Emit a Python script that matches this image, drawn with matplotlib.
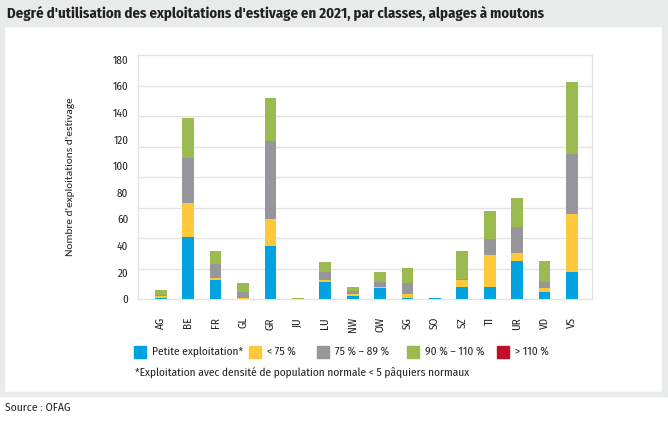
import numpy as np
import matplotlib.pyplot as plt
from matplotlib.patches import Rectangle

cantons = ['AG', 'BE', 'FR', 'GL', 'GR', 'JU', 'LU', 'NW', 'OW', 'SG', 'SO', 'SZ', 'TI', 'UR', 'VD', 'VS']
petite = [1, 47, 14.5, 0, 40, 0, 12.5, 2, 8, 1, 1, 9, 9, 28.5, 5, 20]
moins75 = [1, 25, 1.5, 1, 20, 0, 2, 2, 1, 3, 0, 5, 24, 6, 3, 44]
c75_89 = [1, 34, 10, 4, 59, 0, 6, 2, 4, 8, 0, 1, 12, 20, 5, 45]
c90_110 = [4, 30, 10, 7, 32, 1, 7, 3, 7, 11, 0, 21, 21, 21.5, 15.5, 54]
plus110 = [0] * 16

series = [petite, moins75, c75_89, c90_110, plus110]
labels = ['Petite exploitation*', '< 75 %', '75 % – 89 %', '90 % – 110 %', '> 110 %']
colors = ['#00a3e0', '#ffc83a', '#97979b', '#9bbb50', '#c0102a']

cond = ['Fira Sans Condensed', 'DejaVu Sans']
txtcol = '#222222'

W, H = 668, 421
fig = plt.figure(figsize=(W / 100, H / 100), dpi=100)
fig.patch.set_facecolor('white')

# gray frame + title band
band = '#e9eaea'
fig.patches.append(Rectangle((0, 1 - 26 / H), 1, 26 / H, transform=fig.transFigure, color=band, zorder=0))
fig.patches.append(Rectangle((0, 1 - 396 / H), 4 / W, 370 / H, transform=fig.transFigure, color=band, zorder=0))
fig.patches.append(Rectangle((662 / W, 1 - 396 / H), 6 / W, 370 / H, transform=fig.transFigure, color=band, zorder=0))
fig.patches.append(Rectangle((0, 1 - 396 / H), 1, 4.5 / H, transform=fig.transFigure, color=band, zorder=0))

fig.text(7 / W, 1 - 13.5 / H, "Degré d'utilisation des exploitations d'estivage en 2021, par classes, alpages à moutons",
         fontsize=10.6, fontweight='bold', family=cond, va='center', ha='left', color=txtcol)
fig.text(5 / W, 1 - 408 / H, 'Source : OFAG', fontsize=8.3, family=cond, va='center', ha='left', color=txtcol)

ax = fig.add_axes([138 / W, (H - 299) / H, (592 - 138) / W, (299 - 55) / H])
x = np.arange(len(cantons))
bottom = np.zeros(len(cantons))
for vals, c in zip(series, colors):
    vals = np.array(vals, dtype=float)
    ax.bar(x, vals, bottom=bottom, width=0.43, color=c, zorder=3)
    bottom += vals

ymax = 183.5
ax.set_ylim(0, ymax)
ax.set_xlim(-0.83, 15.73)
for i in range(1, 8):
    ax.axhline(i * ymax / 8, color='#e3e3e3', lw=1, zorder=1)
for s in ax.spines.values():
    s.set_color('#e3e3e3')
    s.set_linewidth(1)

ax.set_yticks(np.arange(0, 181, 20))
ax.tick_params(axis='y', length=0, pad=7, labelsize=8, labelcolor=txtcol)
ax.tick_params(axis='x', length=0, pad=13, labelsize=8, labelcolor=txtcol)
ax.set_xticks(x)
ax.set_xticklabels(cantons, rotation=90, family=cond)
for t in ax.get_yticklabels():
    t.set_family(cond)
ax.set_ylabel("Nombre d'exploitations d'estivage", fontsize=8.2, family=['Carlito', 'DejaVu Sans'],
              color=txtcol)
ax.yaxis.set_label_coords(-(138 - 75) / (592 - 138), 0.5)

# legend drawn by hand
sq = 12
lx = [134, 249, 317, 407, 497]
for xx, c, lab in zip(lx, colors, labels):
    fig.patches.append(Rectangle((xx / W, 1 - (352 + sq / 2) / H), sq / W, sq / H,
                                 transform=fig.transFigure, color=c, zorder=2))
    fig.text((xx + sq + 6) / W, 1 - 352 / H, lab, fontsize=8.2, family=cond, va='center', ha='left', color=txtcol)
fig.text(135 / W, 1 - 372 / H, '*Exploitation avec densité de population normale < 5 pâquiers normaux',
         fontsize=8.2, family=cond, va='center', ha='left', color=txtcol)

plt.savefig('out.png', dpi=100)
